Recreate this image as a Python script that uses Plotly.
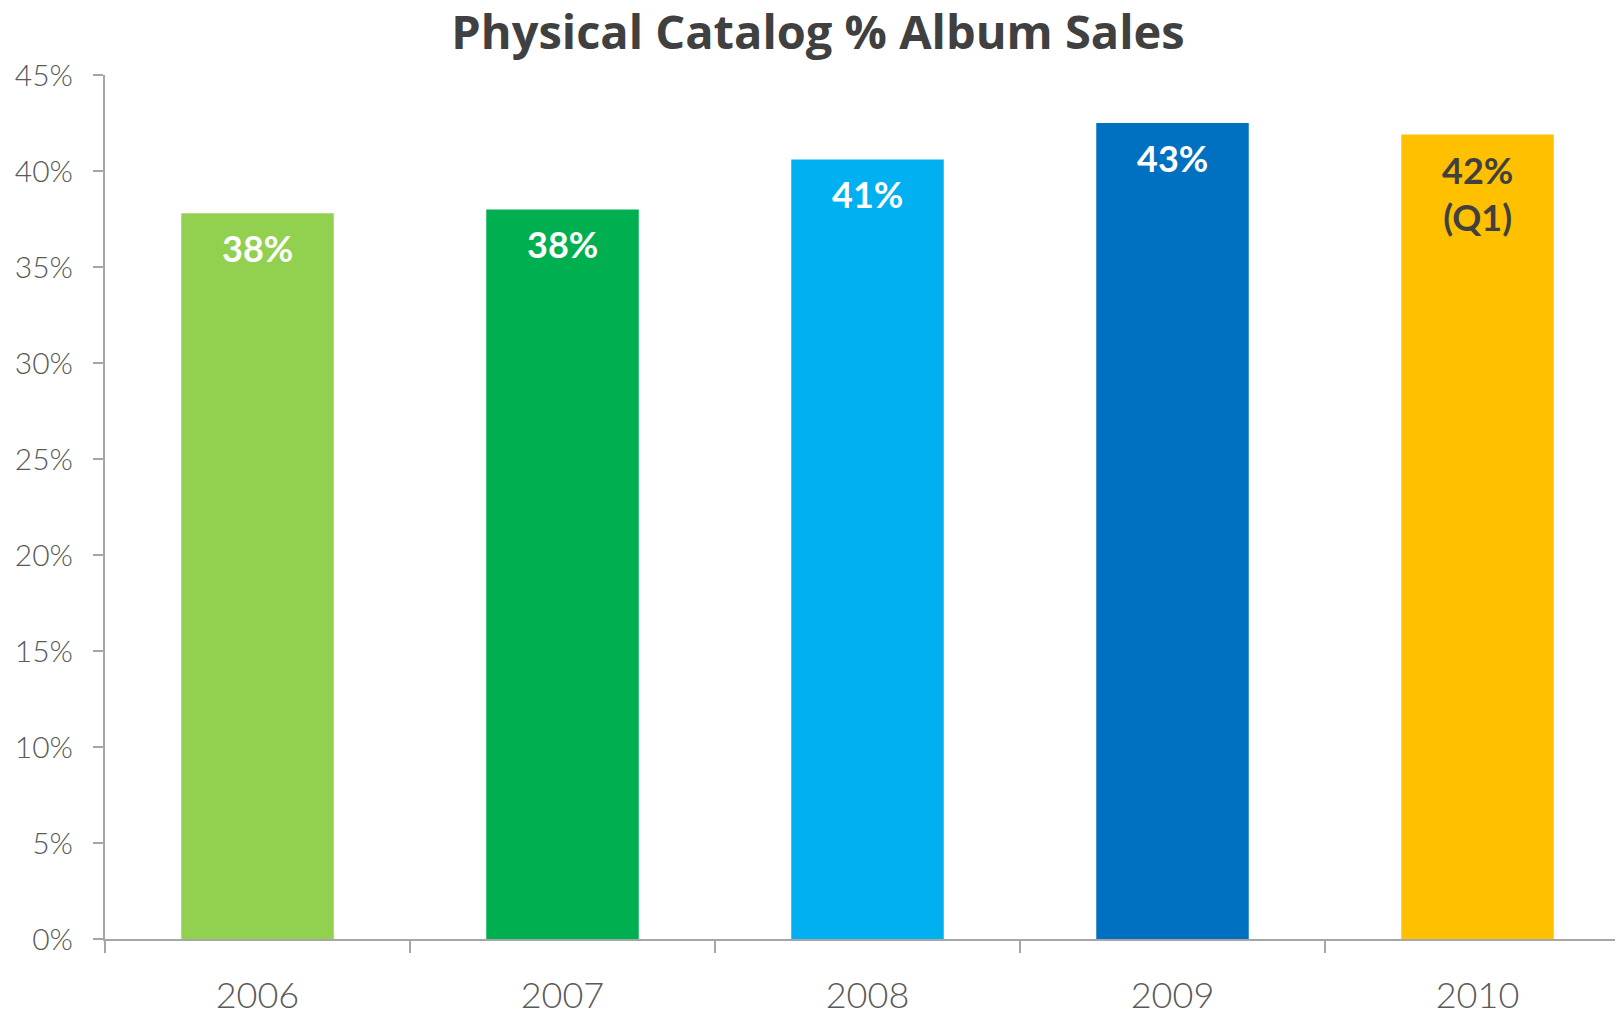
import plotly.graph_objects as go

years = ["2006", "2007", "2008", "2009", "2010"]
values = [37.8, 38.0, 40.6, 42.5, 41.9]
bar_labels = ["38%", "38%", "41%", "43%", "42%<br>(Q1)"]
bar_colors = ["#92D050", "#00B050", "#00B0F0", "#0070C0", "#FFC000"]
label_colors = ["#FFFFFF", "#FFFFFF", "#FFFFFF", "#FFFFFF", "#404040"]
y_ticks = [0, 5, 10, 15, 20, 25, 30, 35, 40, 45]
y_ticktext = [f"{v}%" for v in y_ticks]
title_text = "Physical Catalog % Album Sales"

FONT = "Century Gothic, Lato, Open Sans, sans-serif"
TITLE_FONT = "Century Gothic, Open Sans, Lato, sans-serif"

# the page body adds an 8px offset; size the figure so the plot lands where the reference has it
OFF = 8

fig = go.Figure()
fig.add_trace(go.Bar(
    x=years, y=values, width=0.5,
    marker=dict(color=bar_colors, line=dict(width=0)),
    hoverinfo="skip",
))

for i, (v, lab, col) in enumerate(zip(values, bar_labels, label_colors)):
    fig.add_annotation(
        x=i, y=v, xref="x", yref="y", text=f"<b>{lab}</b>",
        showarrow=False, yanchor="top", yshift=-11,
        font=dict(family=FONT, size=36, color=col),
    )

W, H = 1623 - OFF, 1015 - OFF
fig.update_layout(
    width=W, height=H,
    margin=dict(l=105 - OFF, r=0, t=75 - OFF, b=76),
    plot_bgcolor="white", paper_bgcolor="white",
    showlegend=False,
    title=dict(
        text=f"<b>{title_text}</b>", x=(818 - OFF) / W, xanchor="center",
        y=1 - (33 - OFF) / H, yanchor="middle", yref="container",
        font=dict(family=TITLE_FONT, size=47, color="#404040"),
    ),
    xaxis=dict(
        type="category", range=[-0.5, 4.477],
        showline=True, linecolor="#A6A6A6", linewidth=2,
        ticks="outside", tickson="boundaries", ticklen=12, tickwidth=1.5,
        tickcolor="#A6A6A6", ticklabelstandoff=24,
        tickfont=dict(family=FONT, size=36, color="#595959", weight=300),
        showgrid=False, zeroline=False,
    ),
    yaxis=dict(
        range=[0, 45], tickvals=y_ticks, ticktext=y_ticktext,
        showline=True, linecolor="#A6A6A6", linewidth=2,
        ticks="outside", ticklen=10, tickwidth=1.5, tickcolor="#A6A6A6",
        ticklabelstandoff=14,
        tickfont=dict(family=FONT, size=30, color="#595959", weight=300),
        showgrid=False, zeroline=False,
    ),
)

fig.write_html("out.html")
